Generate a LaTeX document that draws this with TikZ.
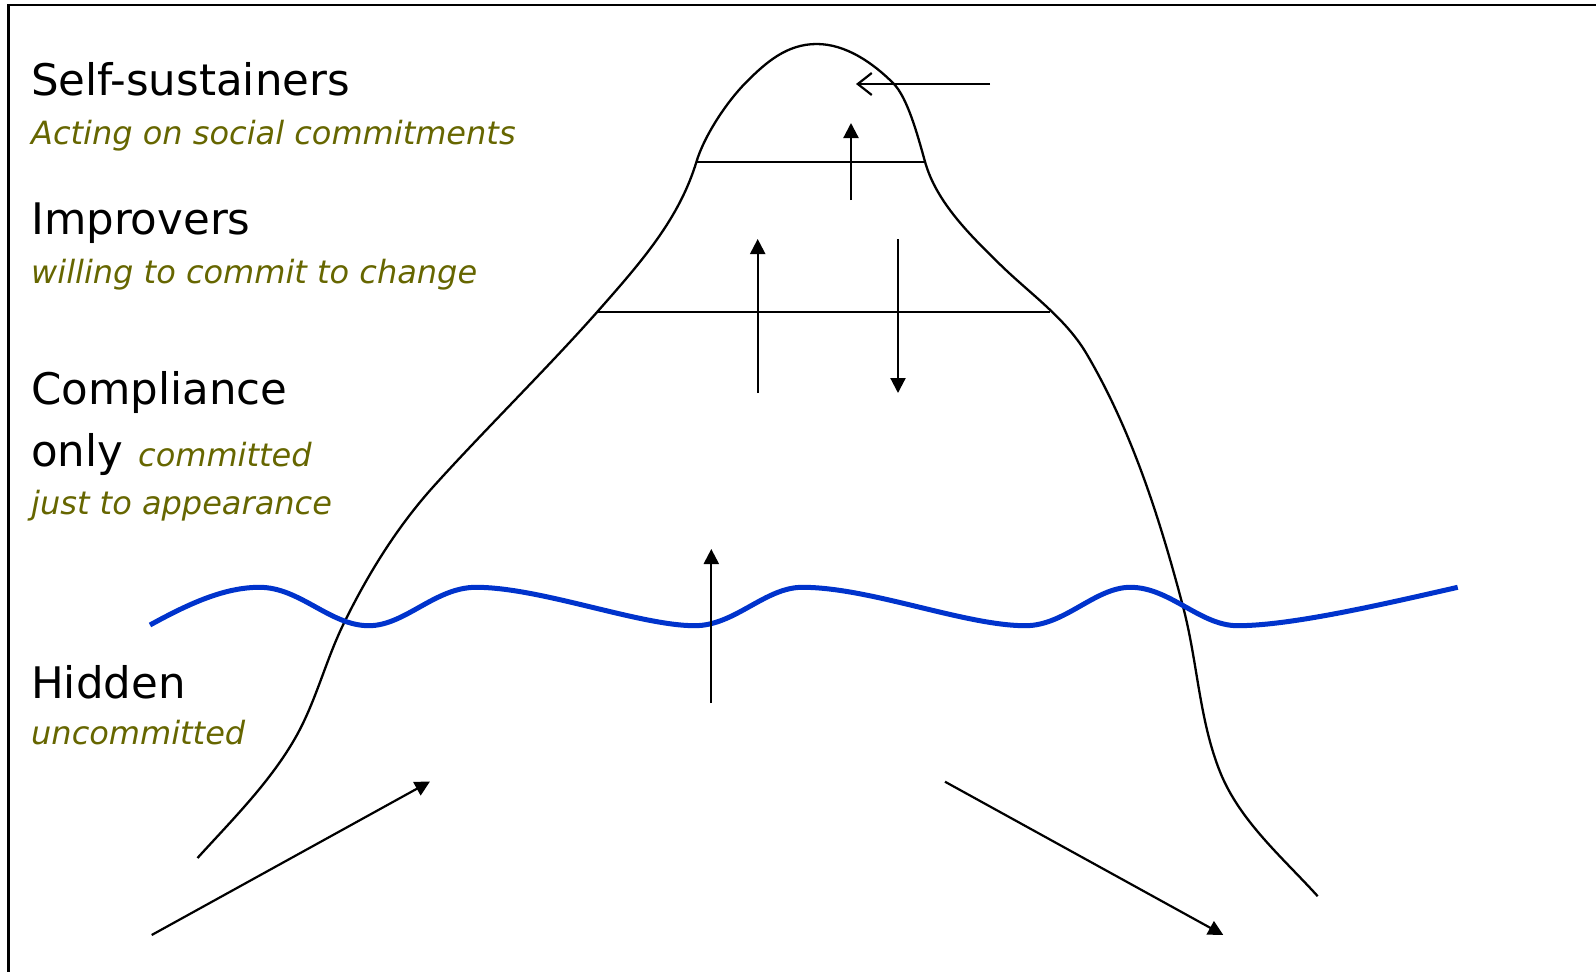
\documentclass[tikz,border=0pt]{standalone}
\usepackage{fontspec}
\setmainfont{DejaVu Sans}
\usetikzlibrary{arrows.meta}
\definecolor{olivetxt}{RGB}{102,102,0}
\definecolor{waterblue}{RGB}{0,51,204}
\begin{document}
\begin{tikzpicture}[x=1pt,y=-1pt,
  head/.style={anchor=base west, inner sep=0pt, font=\fontsize{43.5}{50}\selectfont},
  sub/.style={anchor=base west, inner sep=0pt, text=olivetxt, font=\fontsize{32}{38}\selectfont\itshape},
  mountain/.style={line width=2.3pt, line join=round},
  level/.style={line width=2.2pt},
  tri/.style={line width=2.2pt, -{Triangle[length=15pt,width=15pt]}},
  barb/.style={line width=2.2pt, -{Straight Barb[length=14pt,width=22pt]}},
  water/.style={line width=5pt, draw=waterblue}
]
\useasboundingbox (0,0) rectangle (1596,972);
% frame (top and left edges visible)
\draw[line width=2.5pt] (1596,5) -- (8.7,5) -- (8.7,972);

% texts
\node[head] (t1) at (31,95) {Self-sustainers};
\node[sub]  (s1) at (31,144) {Acting on social commitments};
\node[head] (t2) at (31,234) {Improvers};
\node[sub]  (s2) at (31,283) {willing to commit to change};
\node[head] (t3) at (31,404) {Compliance};
\node[head] (t4) at (31,466) {only};
\node[sub]  (s3) at (138,466) {committed};
\node[sub]  (s4) at (31,514) {just to appearance};
\node[head] (t5) at (31,698) {Hidden};
\node[sub]  (s5) at (31,744) {uncommitted};

% mountain
\draw[mountain] (197.5,858)
  .. controls (232.5,819.5) and (271.4,780.9) .. (296.7,735.4)
  .. controls (316.1,700.4) and (325.8,660.4) .. (343.3,624.4)
  .. controls (367.4,575) and (396.5,527.6) .. (433.3,486.7)
  .. controls (482.1,432.5) and (548.3,367.2) .. (596.7,312.5)
  .. controls (643.1,260) and (679.3,218.4) .. (696.7,161)
  .. controls (703.95,137.1) and (725.5,102.9) .. (746.7,81.7)
  .. controls (765.8,62.6) and (786.7,44) .. (816.7,44)
  .. controls (845.7,44) and (872.8,62.8) .. (893.3,83.3)
  .. controls (907.4,97.4) and (917.5,134.7) .. (925,161.7)
  .. controls (936.3,202.2) and (970,235) .. (1000,264.4)
  .. controls (1030,293.8) and (1065.4,317.8) .. (1086.7,354)
  .. controls (1132.3,431.6) and (1160.4,520.7) .. (1183.3,607.7)
  .. controls (1197.5,661.9) and (1199.2,719.8) .. (1220,771.8)
  .. controls (1239.7,821) and (1282.1,857) .. (1317.7,896.2);

% level lines
\coordinate (l1a) at (697,162); \coordinate (l1b) at (925,162);
\coordinate (l2a) at (597,312); \coordinate (l2b) at (1050,312);
\draw[level] (l1a) -- (l1b);
\draw[level] (l2a) -- (l2b);

% water line
\draw[water] (150,625)
  .. controls (190,603) and (225,587.3) .. (259.5,587.3)
  .. controls (300,587.3) and (330,625.7) .. (368.8,625.7)
  .. controls (405,625.7) and (435,587.3) .. (476,587.3)
  .. controls (540,587.3) and (640,625.7) .. (694.7,625.7)
  .. controls (735,625.7) and (765,587.3) .. (802.3,587.3)
  .. controls (870,587.3) and (965,625.7) .. (1025.5,625.7)
  .. controls (1065,625.7) and (1095,587.3) .. (1130.4,587.3)
  .. controls (1170,587.3) and (1200,625.7) .. (1237.6,625.7)
  .. controls (1290,625.7) and (1380,605) .. (1457.7,587.3);

% arrows
\coordinate (b1s) at (990,84);    \coordinate (b1e) at (856,84);
\coordinate (a1s) at (851,200);   \coordinate (a1e) at (851,123);
\coordinate (a2s) at (757.7,393); \coordinate (a2e) at (757.7,239);
\coordinate (a3s) at (898,239);   \coordinate (a3e) at (898,393);
\coordinate (a4s) at (711.3,703); \coordinate (a4e) at (711.3,549);
\coordinate (a5s) at (151.7,935); \coordinate (a5e) at (430,781.5);
\coordinate (a6s) at (945,781.7); \coordinate (a6e) at (1223.3,935);
\draw[barb] (b1s) -- (b1e);
\draw[tri] (a1s) -- (a1e);
\draw[tri] (a2s) -- (a2e);
\draw[tri] (a3s) -- (a3e);
\draw[tri] (a4s) -- (a4e);
\draw[tri] (a5s) -- (a5e);
\draw[tri] (a6s) -- (a6e);
\end{tikzpicture}
\end{document}
